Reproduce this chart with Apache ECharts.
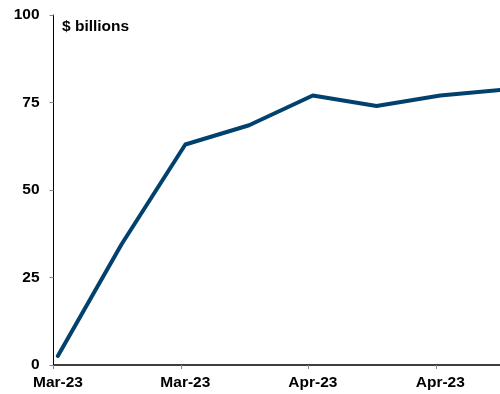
<!DOCTYPE html>
<html>
<head>
<meta charset="utf-8">
<style>
  html, body { margin: 0; padding: 0; background: #fff; }
  #chart { width: 500px; height: 394px; }
</style>
<script src="https://cdn.jsdelivr.net/npm/echarts@6/dist/echarts.min.js"></script>
</head>
<body>
<div id="chart"></div>
<script>
// Weekly observations, $ billions
const weekLabels = ['Mar-23', 'Mar-23', 'Mar-23', 'Mar-23', 'Apr-23', 'Apr-23', 'Apr-23', 'Apr-23'];
const values = [2.6, 34.5, 63.0, 68.5, 77.0, 74.0, 77.0, 78.7];
const yTicks = [0, 25, 50, 75, 100];

// axis starts half a day before the first observation; labels every two weeks
const xMin = -0.068;
const xMax = 6.937;
const xStep = 2;

const chart = echarts.init(document.getElementById('chart'));
const font = 'Liberation Sans, Arial, sans-serif';

chart.setOption({
  animation: false,
  grid: { left: 53.5, right: 0, top: 15, bottom: 29, containLabel: false },
  xAxis: {
    type: 'value',
    min: xMin,
    max: xMax,
    interval: xStep,
    splitLine: { show: false },
    axisLine: { show: true, onZero: false, lineStyle: { color: '#000', width: 1.5 } },
    axisTick: { show: true, length: 4, lineStyle: { color: '#888', width: 1 } },
    axisLabel: {
      showMaxLabel: false,
      margin: 10,
      padding: [0, 0, 0, 9],
      color: '#000',
      fontFamily: font,
      fontWeight: 'bold',
      fontSize: 15.5,
      formatter: v => (v > xMax - 0.01 ? '' : weekLabels[Math.round(v)])
    }
  },
  yAxis: {
    type: 'value',
    min: yTicks[0],
    max: yTicks[yTicks.length - 1],
    interval: 25,
    splitLine: { show: false },
    axisLine: { show: true, onZero: false, lineStyle: { color: '#000', width: 1 } },
    axisTick: { show: true, length: 4, lineStyle: { color: '#888', width: 1 } },
    axisLabel: {
      margin: 14,
      color: '#000',
      fontFamily: font,
      fontWeight: 'bold',
      fontSize: 15.5
    }
  },
  graphic: [{
    type: 'text',
    left: 62,
    top: 19,
    style: {
      text: '$ billions',
      fill: '#000',
      font: 'bold 15.5px ' + font
    }
  }],
  series: [{
    type: 'line',
    data: values.map((v, i) => [i, v]),
    showSymbol: false,
    lineStyle: { color: '#00416d', width: 4, cap: 'round', join: 'round' },
    itemStyle: { color: '#00416d' }
  }]
});
</script>
</body>
</html>
